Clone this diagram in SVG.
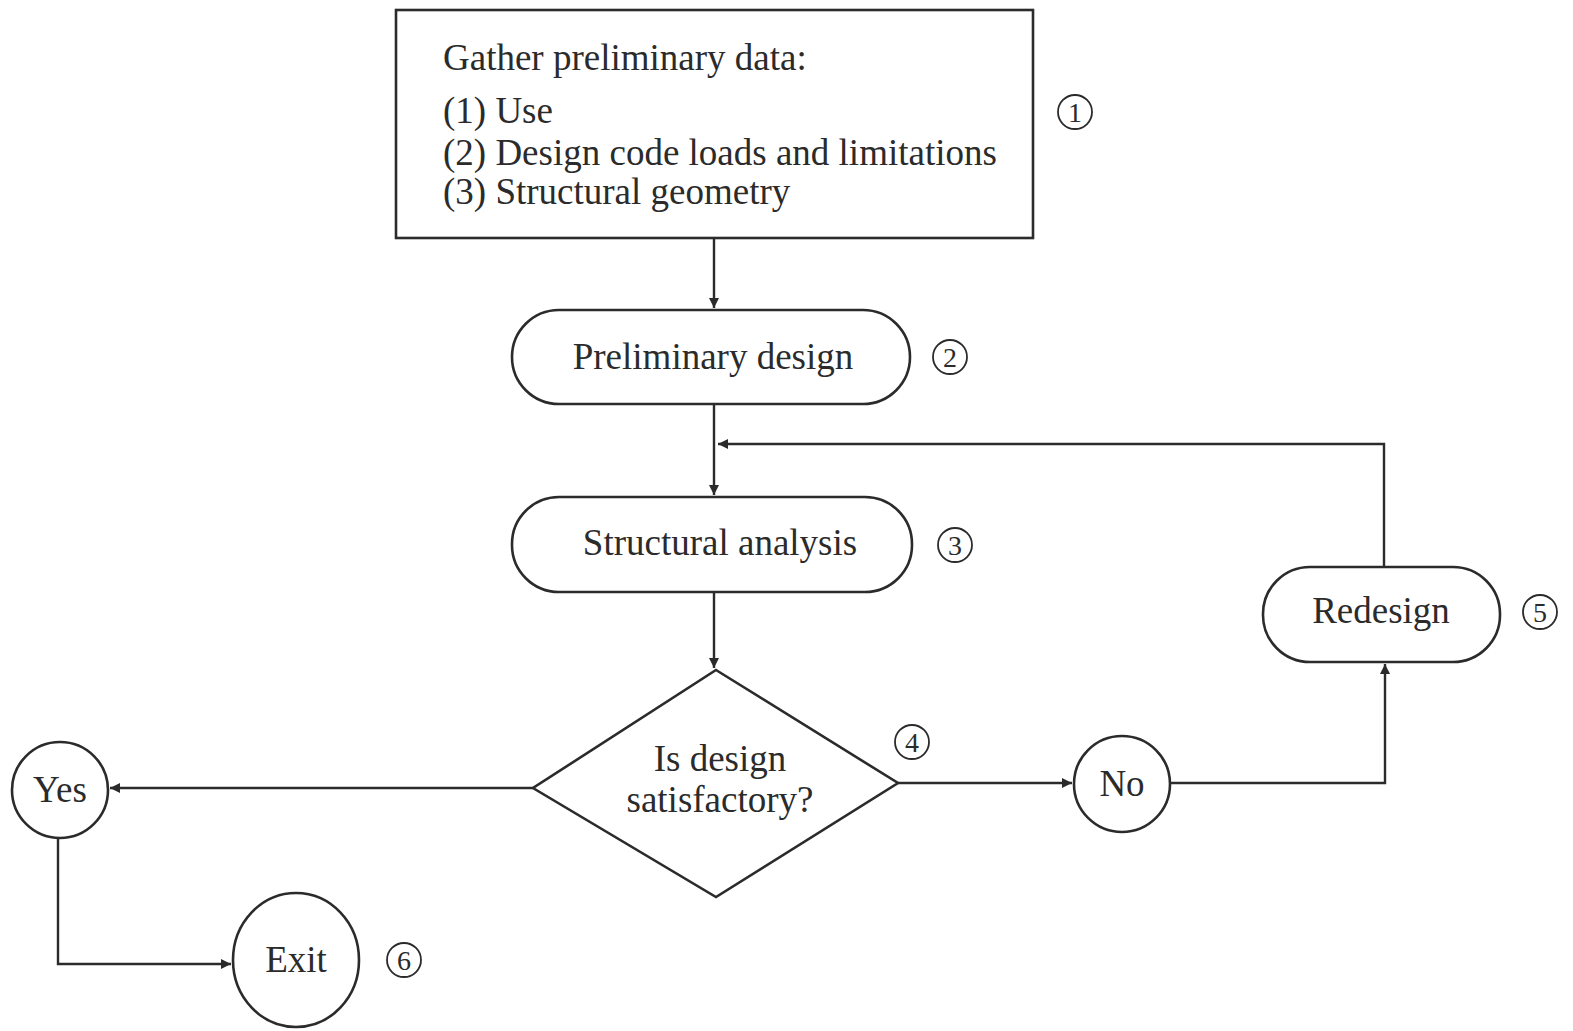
<svg xmlns="http://www.w3.org/2000/svg" width="1573" height="1031" viewBox="0 0 1573 1031">
<style>
.shape{fill:#fff;stroke:#2b2b2b;stroke-width:2.6}
.lbl{font-family:"Liberation Serif","Times New Roman",serif;font-size:37px;fill:#2b2b2b}
.num{font-family:"Liberation Serif","Times New Roman",serif;font-size:28px;fill:#2b2b2b;text-anchor:middle}
.nc{fill:none;stroke:#2b2b2b;stroke-width:1.8}
.edge{fill:none;stroke:#2b2b2b;stroke-width:2.4}
</style>
<defs>
<marker id="arr" viewBox="0 0 10 10" refX="10" refY="5" markerWidth="12" markerHeight="10" markerUnits="userSpaceOnUse" orient="auto">
<path d="M0,0 L10,5 L0,10 z" fill="#2b2b2b"/>
</marker>
</defs>
<rect width="1573" height="1031" fill="#fff"/>
<g id="connectors">
<path class="edge" d="M714,238 V308" marker-end="url(#arr)"/>
<path class="edge" d="M714,404 V495" marker-end="url(#arr)"/>
<path class="edge" d="M1384,567 V444 H718" marker-end="url(#arr)"/>
<path class="edge" d="M714,592 V668" marker-end="url(#arr)"/>
<path class="edge" d="M533,788 H110" marker-end="url(#arr)"/>
<path class="edge" d="M58,838 V964 H231" marker-end="url(#arr)"/>
<path class="edge" d="M898,783 H1072" marker-end="url(#arr)"/>
<path class="edge" d="M1170,783 H1385 V664" marker-end="url(#arr)"/>
</g>
<g id="n1">
<rect class="shape" x="396" y="10" width="637" height="228"/>
<text class="lbl" x="443" y="70">Gather preliminary data:</text>
<text class="lbl" x="443" y="123">(1) Use</text>
<text class="lbl" x="443" y="165">(2) Design code loads and limitations</text>
<text class="lbl" x="443" y="204">(3) Structural geometry</text>
<circle class="nc" cx="1075" cy="112" r="17"/>
<text class="num" x="1075" y="122">1</text>
</g>
<g id="n2">
<rect class="shape" x="512" y="310" width="398" height="94" rx="47"/>
<text class="lbl" x="713" y="369" text-anchor="middle">Preliminary design</text>
<circle class="nc" cx="950" cy="357" r="17"/>
<text class="num" x="950" y="367">2</text>
</g>
<g id="n3">
<rect class="shape" x="512" y="497" width="400" height="95" rx="47"/>
<text class="lbl" x="720" y="555" text-anchor="middle">Structural analysis</text>
<circle class="nc" cx="955" cy="545" r="17"/>
<text class="num" x="955" y="555">3</text>
</g>
<g id="n4">
<path class="shape" d="M716,670 L898,783 L716,897 L533,788 Z"/>
<text class="lbl" x="720" y="771" text-anchor="middle">Is design</text>
<text class="lbl" x="720" y="812" text-anchor="middle">satisfactory?</text>
<circle class="nc" cx="912" cy="742" r="17"/>
<text class="num" x="912" y="752">4</text>
</g>
<g id="n5">
<rect class="shape" x="1263" y="567" width="237" height="95" rx="47"/>
<text class="lbl" x="1381" y="623" text-anchor="middle">Redesign</text>
<circle class="nc" cx="1540" cy="612" r="17"/>
<text class="num" x="1540" y="622">5</text>
</g>
<g id="yes">
<circle class="shape" cx="60" cy="790" r="48"/>
<text class="lbl" x="60" y="802" text-anchor="middle">Yes</text>
</g>
<g id="no">
<circle class="shape" cx="1122" cy="784" r="48"/>
<text class="lbl" x="1122" y="796" text-anchor="middle">No</text>
</g>
<g id="n6">
<ellipse class="shape" cx="296" cy="960" rx="63" ry="67"/>
<text class="lbl" x="296" y="972" text-anchor="middle">Exit</text>
<circle class="nc" cx="404" cy="960" r="17"/>
<text class="num" x="404" y="970">6</text>
</g>
</svg>
